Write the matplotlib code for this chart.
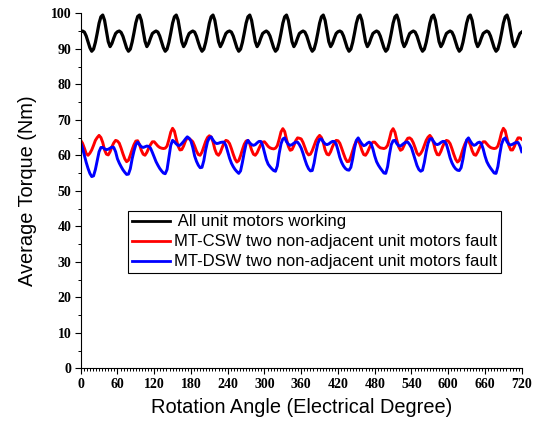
import matplotlib
matplotlib.use('Agg')
import matplotlib.pyplot as plt
from matplotlib.ticker import MultipleLocator
import numpy as np

# Rotation angle grid (electrical degrees), one sample every 3 degrees
angle = np.arange(0, 721, 3)

# All unit motors working (black)
torque_all = [
    94.7, 95.0, 94.7, 93.6, 91.9, 90.3, 89.3, 89.9, 91.8, 94.4, 97.2, 99.0, 99.5, 98.0, 95.0, 92.0, 90.6, 91.5, 93.0, 94.3,
    94.8, 95.0, 94.6, 93.5, 91.9, 90.2, 89.3, 89.9, 91.9, 94.5, 97.3, 99.1, 99.5, 98.0, 95.0, 92.1, 90.6, 91.5, 93.0, 94.3,
    94.7, 95.0, 94.7, 93.6, 91.9, 90.3, 89.3, 89.9, 91.8, 94.4, 97.2, 99.0, 99.5, 98.1, 95.1, 92.0, 90.6, 91.5, 93.1, 94.3,
    94.7, 95.0, 94.7, 93.5, 91.8, 90.3, 89.3, 89.9, 91.8, 94.4, 97.2, 99.0, 99.5, 98.0, 95.0, 92.0, 90.6, 91.6, 93.0, 94.3,
    94.8, 95.0, 94.7, 93.6, 91.9, 90.3, 89.3, 89.9, 91.8, 94.4, 97.2, 99.0, 99.5, 98.0, 95.0, 92.0, 90.6, 91.5, 93.0, 94.3,
    94.7, 95.0, 94.6, 93.6, 91.9, 90.3, 89.3, 89.9, 91.8, 94.4, 97.2, 99.0, 99.5, 98.0, 95.0, 92.0, 90.6, 91.5, 93.0, 94.3,
    94.7, 95.0, 94.7, 93.6, 91.9, 90.3, 89.3, 89.9, 91.8, 94.4, 97.2, 99.0, 99.5, 98.0, 95.0, 92.0, 90.6, 91.5, 93.0, 94.3,
    94.8, 95.0, 94.7, 93.6, 91.9, 90.3, 89.3, 89.9, 91.8, 94.4, 97.2, 99.0, 99.5, 98.0, 95.0, 92.0, 90.6, 91.5, 93.0, 94.3,
    94.7, 95.0, 94.7, 93.6, 91.9, 90.3, 89.3, 89.9, 91.8, 94.4, 97.2, 99.0, 99.5, 98.0, 95.0, 92.0, 90.6, 91.5, 93.0, 94.3,
    94.7, 95.0, 94.7, 93.6, 91.9, 90.3, 89.3, 89.9, 91.8, 94.4, 97.2, 99.0, 99.5, 98.0, 95.0, 92.0, 90.6, 91.5, 93.0, 94.3,
    94.7, 95.0, 94.7, 93.6, 91.9, 90.3, 89.3, 89.9, 91.8, 94.4, 97.2, 99.0, 99.5, 98.0, 95.0, 92.0, 90.6, 91.5, 93.0, 94.3,
    94.7, 95.0, 94.7, 93.6, 91.9, 90.3, 89.3, 89.9, 91.8, 94.4, 97.2, 99.0, 99.5, 98.0, 95.0, 92.0, 90.6, 91.5, 93.0, 94.3,
    94.7,
]

# MT-CSW two non-adjacent unit motors fault (red)
torque_csw = [
    64.2, 63.4, 62.0, 60.5, 60.0, 60.6, 61.5, 62.8, 64.2, 65.0,
    65.6, 65.0, 63.6, 61.5, 60.3, 60.1, 61.0, 62.4, 63.5, 64.2,
    64.0, 63.4, 62.0, 60.4, 59.0, 58.2, 58.6, 60.0, 61.6, 63.0,
    64.0, 64.1, 63.0, 61.4, 60.3, 60.0, 60.8, 62.0, 63.0, 63.8,
    63.8, 63.2, 62.6, 62.2, 62.0, 61.9, 62.0, 62.6, 64.4, 66.5,
    67.6, 66.8, 64.6, 62.6, 61.5, 61.6, 62.6, 64.0, 64.9, 64.7,
    64.3, 63.8, 62.6, 61.2, 60.2, 60.0, 60.9, 62.4, 63.9, 65.0,
    65.5, 65.1, 63.8, 61.7, 60.4, 60.0, 60.8, 62.2, 63.5, 64.2,
    64.0, 63.3, 61.9, 60.3, 58.9, 58.1, 58.5, 59.9, 61.6, 63.1,
    64.0, 64.2, 63.2, 61.5, 60.3, 60.0, 60.7, 61.9, 63.0, 63.7,
    63.8, 63.2, 62.5, 62.1, 61.9, 61.8, 62.0, 62.7, 64.5, 66.6,
    67.5, 66.7, 64.5, 62.5, 61.4, 61.6, 62.7, 64.1, 64.9, 64.8,
    64.6, 63.6, 62.2, 60.8, 60.1, 60.3, 61.3, 62.7, 64.1, 65.0,
    65.6, 65.0, 63.6, 61.5, 60.3, 60.1, 61.0, 62.4, 63.5, 64.2,
    64.1, 63.4, 62.0, 60.5, 59.1, 58.2, 58.3, 59.6, 61.3, 62.9,
    64.0, 64.2, 63.1, 61.4, 60.2, 60.0, 60.8, 62.0, 63.1, 63.7,
    63.7, 63.1, 62.5, 62.1, 62.0, 61.9, 62.1, 62.8, 64.6, 66.7,
    67.5, 66.5, 64.3, 62.4, 61.4, 61.7, 62.8, 64.0, 64.8, 64.9,
    64.5, 63.5, 62.1, 60.6, 60.0, 60.5, 61.4, 62.8, 64.2, 65.1,
    65.6, 64.9, 63.5, 61.4, 60.2, 60.1, 61.1, 62.5, 63.6, 64.2,
    64.0, 63.3, 61.9, 60.3, 58.9, 58.1, 58.5, 60.0, 61.7, 63.1,
    64.1, 64.1, 63.0, 61.3, 60.2, 60.0, 60.9, 62.1, 63.1, 63.8,
    63.8, 63.2, 62.6, 62.2, 62.0, 61.9, 62.0, 62.6, 64.3, 66.4,
    67.6, 66.9, 64.7, 62.7, 61.5, 61.5, 62.5, 63.9, 64.9, 64.9,
    64.5,
]

# MT-DSW two non-adjacent unit motors fault (blue)
torque_dsw = [
    63.5, 62.0, 60.0, 58.0, 56.3, 54.9, 54.0, 54.2, 56.0, 58.5,
    61.0, 62.2, 62.2, 61.8, 61.6, 61.7, 62.0, 62.3, 62.2, 61.0,
    59.0, 57.8, 56.8, 55.9, 55.2, 54.6, 54.7, 56.2, 59.0, 61.2,
    63.0, 63.7, 63.0, 62.4, 62.2, 62.4, 62.6, 62.5, 62.0, 60.8,
    59.5, 58.2, 57.2, 56.3, 55.6, 55.0, 54.8, 56.0, 59.5, 62.8,
    64.2, 63.8, 63.2, 62.8, 62.8, 63.3, 63.9, 64.6, 65.2, 64.8,
    64.0, 62.2, 59.8, 58.3, 57.2, 56.5, 56.6, 58.5, 61.5, 63.8,
    64.9, 65.2, 64.3, 63.6, 63.3, 63.4, 63.6, 63.7, 63.7, 62.8,
    61.0, 59.2, 57.8, 56.8, 56.0, 55.4, 54.9, 55.6, 58.0, 60.8,
    63.2, 64.2, 63.5, 63.0, 62.8, 63.0, 63.5, 63.9, 63.9, 62.8,
    60.8, 58.8, 57.5, 56.8, 56.2, 55.7, 55.5, 57.0, 60.5, 63.2,
    64.6, 64.9, 63.8, 63.1, 62.8, 63.0, 63.4, 63.7, 63.7, 63.0,
    62.0, 60.5, 58.8, 57.3, 56.2, 55.6, 55.7, 57.8, 60.8, 63.3,
    64.5, 64.6, 63.8, 63.2, 63.0, 63.2, 63.6, 63.9, 63.9, 63.2,
    61.4, 59.4, 58.0, 57.0, 56.3, 55.9, 55.8, 56.6, 59.0, 62.0,
    64.2, 64.9, 64.0, 63.2, 62.7, 62.9, 63.4, 63.7, 63.3, 61.8,
    59.8, 58.2, 57.2, 56.4, 55.7, 55.0, 54.9, 56.8, 60.2, 63.0,
    64.1, 64.2, 63.3, 62.7, 62.6, 63.0, 63.4, 63.7, 63.7, 63.0,
    62.1, 60.4, 58.6, 57.1, 56.0, 55.5, 55.8, 58.0, 61.0, 63.4,
    64.6, 64.7, 63.9, 63.2, 63.0, 63.2, 63.6, 63.9, 63.9, 63.1,
    61.3, 59.3, 57.9, 56.9, 56.2, 55.8, 55.7, 56.5, 58.9, 62.0,
    64.3, 64.9, 64.0, 63.2, 62.8, 63.0, 63.5, 63.7, 63.3, 61.8,
    59.8, 58.2, 57.2, 56.4, 55.7, 55.0, 54.9, 56.8, 60.2, 63.1,
    64.5, 64.9, 63.8, 63.1, 62.9, 63.1, 63.4, 63.6, 63.6, 62.6,
    61.0,
]

series_labels = [
    ' All unit motors working',
    'MT-CSW two non-adjacent unit motors fault',
    'MT-DSW two non-adjacent unit motors fault',
]
x_ticks = list(range(0, 721, 60))
y_ticks = list(range(0, 101, 10))

fig = plt.figure(figsize=(5.39, 4.28), dpi=100)
ax = fig.add_axes([0.1497, 0.1395, 0.8183, 0.8295])

ax.plot(angle, torque_all, color='#000000', lw=2.3, label=series_labels[0])
ax.plot(angle, torque_csw, color='#FF0000', lw=2.1, label=series_labels[1])
ax.plot(angle, torque_dsw, color='#0000FF', lw=2.1, label=series_labels[2])

ax.set_xlim(0, 720)
ax.set_ylim(0, 100)
ax.set_xticks(x_ticks)
ax.set_yticks(y_ticks)
ax.xaxis.set_minor_locator(MultipleLocator(5))
ax.yaxis.set_minor_locator(MultipleLocator(5))

for s in ['top', 'right']:
    ax.spines[s].set_visible(False)
for s in ['left', 'bottom']:
    ax.spines[s].set_linewidth(0.8)

ax.tick_params(which='major', direction='out', length=4.3, width=0.8, pad=2.5)
ax.tick_params(which='minor', direction='out', length=2.2, width=0.7)
for lab in ax.get_xticklabels() + ax.get_yticklabels():
    lab.set_fontfamily('Liberation Serif')
    lab.set_fontweight('bold')
    lab.set_fontsize(10)

ax.set_xlabel('Rotation Angle (Electrical Degree)', family='Liberation Sans',
              fontsize=14.4, labelpad=5)
ax.set_ylabel('Average Torque (Nm)', family='Liberation Sans',
              fontsize=14.4, labelpad=10)

leg = fig.legend(loc='upper left', bbox_to_anchor=(128.3 / 539, 1 - 211 / 428),
                 bbox_transform=fig.transFigure, borderaxespad=0,
                 prop={'family': 'Liberation Sans', 'size': 12},
                 frameon=True, fancybox=False, shadow=False,
                 handlelength=2.33, handletextpad=0.24, borderpad=0.2,
                 labelspacing=0.3)
leg.get_frame().set_edgecolor('black')
leg.get_frame().set_linewidth(0.8)
leg.get_frame().set_alpha(1)
for line in leg.get_lines():
    line.set_linewidth(2.0)

fig.savefig('out.png', dpi=100)
